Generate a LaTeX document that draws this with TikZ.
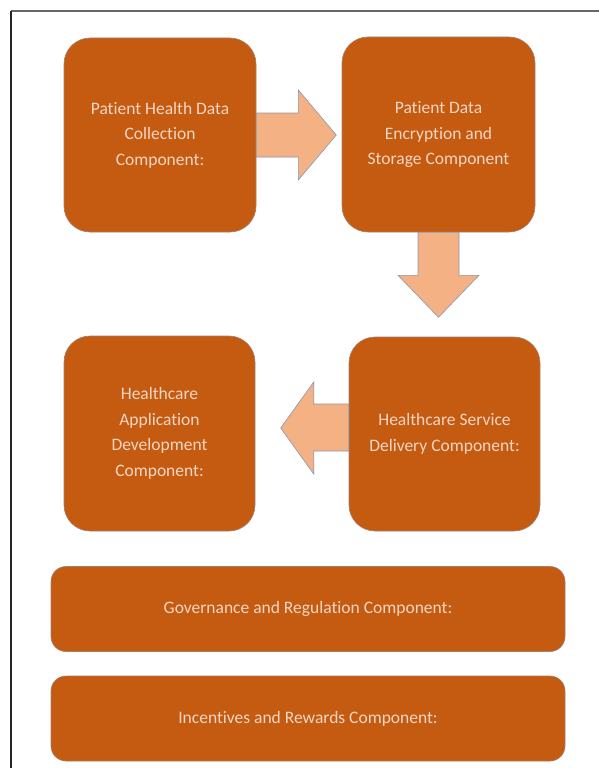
\documentclass[tikz,border=0pt]{standalone}
\usepackage{fontspec}
\setmainfont{Carlito}[Ligatures=NoCommon]
\usetikzlibrary{calc}
\definecolor{boxorange}{HTML}{C55A11}
\definecolor{arrowpeach}{HTML}{F4B183}
\definecolor{arrowline}{HTML}{8A97AE}
\definecolor{boxtext}{HTML}{F3D6C4}

\begin{document}
\begin{tikzpicture}[x=1pt, y=-1pt,
    comp/.style={draw=arrowline!60!boxorange, line width=0.6pt, fill=boxorange,
      rounded corners=26pt, inner sep=0pt, align=center, text=boxtext,
      font=\fontsize{17.5}{25.5}\selectfont},
    wide/.style={comp, rounded corners=15pt, minimum width=514pt, minimum height=85pt},
    blockarrow/.style={draw=arrowline, line width=0.6pt, fill=arrowpeach, line join=miter}]
            \useasboundingbox (0,0) rectangle (599,768);
            \draw[line width=1.6pt, color=black!60] (11,11) -- (599,11);
            \draw[line width=1.4pt, color=black!85] (11,11) -- (11,768);
            \node[comp, minimum width=192pt, minimum height=194pt] (collect) at (160,135)
              {Patient Health Data\\Collection\\Component:};
            \node[comp, minimum width=193pt, minimum height=195pt] (storage) at (438.5,134.5)
              {Patient Data\\Encryption and\\Storage Component};
            \node[comp, minimum width=191pt, minimum height=194pt] (delivery) at (444.5,434)
              {Healthcare Service\\Delivery Component:};
            \node[comp, minimum width=191pt, minimum height=195pt] (appdev) at (159.5,433.5)
              {Healthcare\\Application\\Development\\Component:};
            \node[wide] (governance) at (308,609) {Governance and Regulation Component:};
            \node[wide] (rewards) at (308,718.5) {Incentives and Rewards Component:};
            % block arrows between the components
            \draw[blockarrow] ($(collect.east)+(0,-22)$) -- ++(42,0) -- ++(0,-23) -- ++(38,45)
              -- ++(-38,45) -- ++(0,-23) -- ++(-42,0) -- cycle;
            \draw[blockarrow] ($(storage.south)+(-20.5,0)$) -- ++(0,43) -- ++(-20,0) -- ++(40.5,42)
              -- ++(40.5,-42) -- ++(-20,0) -- ++(0,-43) -- cycle;
            \draw[blockarrow] ($(delivery.west)+(0,-30)$) -- ++(-35,0) -- ++(0,-22) -- ++(-33,46)
              -- ++(33,46) -- ++(0,-23) -- ++(35,0) -- cycle;
          \end{tikzpicture}
\end{document}
